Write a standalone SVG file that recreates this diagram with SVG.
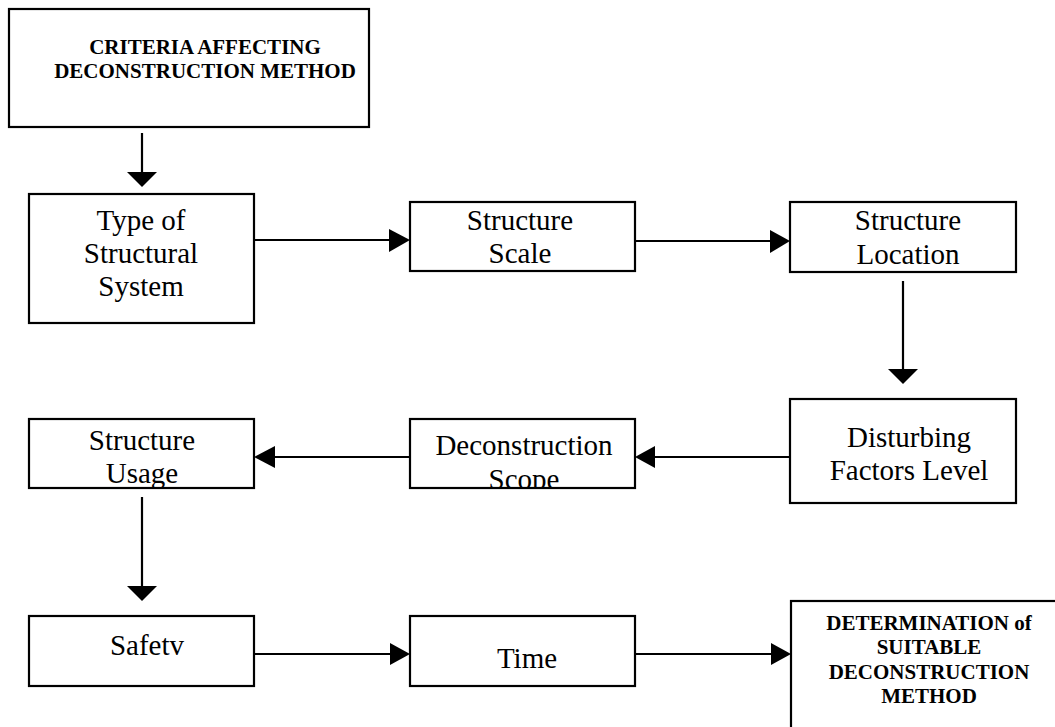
<svg xmlns="http://www.w3.org/2000/svg" width="1055" height="727" viewBox="0 0 1055 727">
<style>
.box{fill:#fff;stroke:#000;stroke-width:2.2}
.t{font-family:"Liberation Serif","Times New Roman",serif;font-size:29px;fill:#000;text-anchor:middle}
.b{font-family:"Liberation Serif","Times New Roman",serif;font-size:21px;font-weight:bold;fill:#000;text-anchor:middle}
.ln{stroke:#000;stroke-width:2.2;fill:none}
.hd{fill:#000;stroke:none}
</style>
<defs>
<clipPath id="clipE"><rect x="411" y="420" width="223" height="67"/></clipPath>
<clipPath id="clipF"><rect x="30" y="420" width="223" height="67"/></clipPath>
</defs>
<rect width="1055" height="727" fill="#fff"/>
<g id="connectors">
<line class="ln" x1="142" y1="133" x2="142" y2="173"/><polygon class="hd" points="127,172 157,172 142,187"/>
<line class="ln" x1="254" y1="240" x2="390" y2="240"/><polygon class="hd" points="389,229 389,252 410,240"/>
<line class="ln" x1="635" y1="241" x2="771" y2="241"/><polygon class="hd" points="770,230 770,253 790,241"/>
<line class="ln" x1="903" y1="281" x2="903" y2="370"/><polygon class="hd" points="888,369 918,369 903,384"/>
<line class="ln" x1="790" y1="457" x2="654" y2="457"/><polygon class="hd" points="655,446 655,468 635,457"/>
<line class="ln" x1="410" y1="457" x2="274" y2="457"/><polygon class="hd" points="275,446 275,468 254,457"/>
<line class="ln" x1="142" y1="497" x2="142" y2="587"/><polygon class="hd" points="127,586 157,586 142,601"/>
<line class="ln" x1="254" y1="654" x2="391" y2="654"/><polygon class="hd" points="390,643 390,665 410,654"/>
<line class="ln" x1="635" y1="654" x2="772" y2="654"/><polygon class="hd" points="771,643 771,665 791,654"/>
</g>
<g id="criteria">
<rect class="box" x="9" y="9" width="360" height="118"/>
<text class="b" x="205" y="54">CRITERIA AFFECTING</text>
<text class="b" x="205" y="78">DECONSTRUCTION METHOD</text>
</g>
<g id="type-structural-system">
<rect class="box" x="29" y="194" width="225" height="129"/>
<text class="t" x="141" y="230">Type of</text>
<text class="t" x="141" y="263">Structural</text>
<text class="t" x="141" y="296">System</text>
</g>
<g id="structure-scale">
<rect class="box" x="410" y="202" width="225" height="69"/>
<text class="t" x="520" y="230">Structure</text>
<text class="t" x="520" y="263">Scale</text>
</g>
<g id="structure-location">
<rect class="box" x="790" y="202" width="226" height="70"/>
<text class="t" x="908" y="230">Structure</text>
<text class="t" x="908" y="264">Location</text>
</g>
<g id="disturbing-factors">
<rect class="box" x="790" y="399" width="226" height="104"/>
<text class="t" x="909" y="447">Disturbing</text>
<text class="t" x="909" y="480">Factors Level</text>
</g>
<g id="deconstruction-scope">
<rect class="box" x="410" y="419" width="225" height="69"/>
<g clip-path="url(#clipE)">
<text class="t" x="524" y="455">Deconstruction</text>
<text class="t" x="524" y="489">Scope</text>
</g>
</g>
<g id="structure-usage">
<rect class="box" x="29" y="419" width="225" height="69"/>
<g clip-path="url(#clipF)">
<text class="t" x="142" y="450">Structure</text>
<text class="t" x="142" y="483">Usage</text>
</g>
</g>
<g id="safety">
<rect class="box" x="29" y="616" width="225" height="70"/>
<text class="t" x="147" y="655">Safetv</text>
</g>
<g id="time">
<rect class="box" x="410" y="616" width="225" height="70"/>
<text class="t" x="527" y="668">Time</text>
</g>
<g id="determination">
<rect class="box" x="791" y="601" width="300" height="200"/>
<text class="b" x="929" y="630">DETERMINATION of</text>
<text class="b" x="929" y="654">SUITABLE</text>
<text class="b" x="929" y="679">DECONSTRUCTION</text>
<text class="b" x="929" y="703">METHOD</text>
</g>
</svg>
